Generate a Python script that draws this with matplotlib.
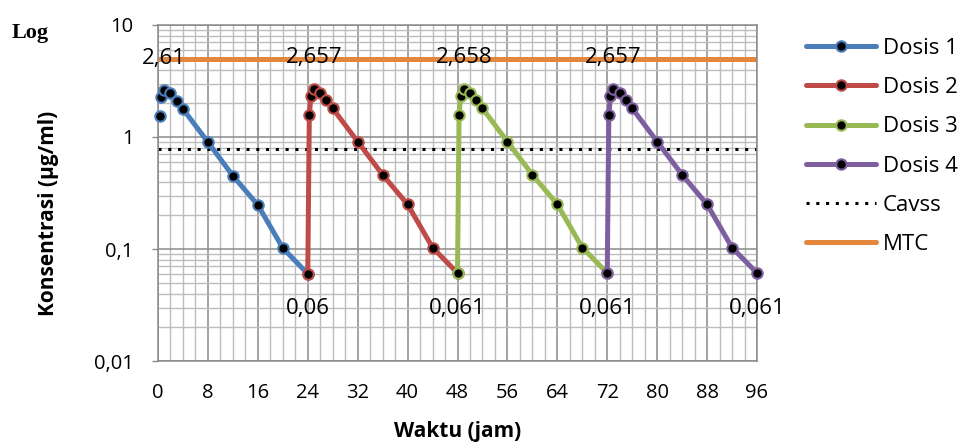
import numpy as np
import matplotlib
matplotlib.use("Agg")
import matplotlib.pyplot as plt
from matplotlib.ticker import FixedLocator, MultipleLocator, NullFormatter

plt.rcParams['font.family'] = ['Open Sans', 'DejaVu Sans']

# data (nan = gap in the Dosis 1 line after the first point)
t1 = [0.25, 0.4, 0.5, 1, 2, 3, 4, 8, 12, 16, 20, 24]
c1 = [1.54, np.nan, 2.28, 2.61, 2.47, 2.1, 1.78, 0.9, 0.45, 0.247, 0.102, 0.06]
t2 = [24, 24.25, 24.5, 25, 26, 27, 28, 32, 36, 40, 44, 48]
c2 = [0.06, 1.56, 2.3, 2.657, 2.49, 2.12, 1.8, 0.91, 0.46, 0.25, 0.103, 0.061]
t3 = [48, 48.25, 48.5, 49, 50, 51, 52, 56, 60, 64, 68, 72]
c3 = [0.061, 1.56, 2.3, 2.658, 2.49, 2.12, 1.8, 0.91, 0.46, 0.25, 0.103, 0.061]
t4 = [72, 72.25, 72.5, 73, 74, 75, 76, 80, 84, 88, 92, 96]
c4 = [0.061, 1.56, 2.3, 2.657, 2.49, 2.12, 1.8, 0.91, 0.46, 0.25, 0.103, 0.061]
cavss = 0.78
mtc = 5.0

peak_t = [1, 25, 49, 73]
peak_c = [2.61, 2.657, 2.658, 2.657]
peak_lbl = ["2,61", "2,657", "2,658", "2,657"]
low_t = [24, 48, 72, 96]
low_c = [0.06, 0.061, 0.061, 0.061]
low_lbl = ["0,06", "0,061", "0,061", "0,061"]

yticks = [0.01, 0.1, 1, 10]
ytick_lbl = ["0,01", "0,1", "1", "10"]
xticks = list(range(0, 97, 8))

names = ["Dosis 1", "Dosis 2", "Dosis 3", "Dosis 4"]
colors = ["#4A7EBB", "#BE4B48", "#98B954", "#7D5FA0"]

W, H = 965, 447
fig = plt.figure(figsize=(W/100, H/100), dpi=100)
ax = fig.add_axes([158/W, 1 - 361/H, (757-158)/W, (361-25)/H])

ax.set_yscale("log")
ax.set_xlim(0, 96)
ax.set_ylim(0.01, 10)

# grid
ax.xaxis.set_minor_locator(MultipleLocator(2))
ax.xaxis.set_major_locator(FixedLocator(xticks))
ax.yaxis.set_major_locator(FixedLocator(yticks))
ax.yaxis.set_minor_locator(FixedLocator([m * 10.0**e for e in range(-2, 1) for m in range(2, 10)]))
ax.yaxis.set_minor_formatter(NullFormatter())
ax.grid(which="major", color="#8a8a8a", lw=1.1)
ax.grid(which="minor", color="#bdbdbd", lw=1.0)
ax.set_axisbelow(True)

ax.set_yticklabels(ytick_lbl)
ax.set_xticklabels([str(x) for x in xticks])
ax.tick_params(axis="y", which="major", length=4.5, width=1, color="#8a8a8a", pad=13, labelsize=14.5)
ax.tick_params(axis="y", which="minor", length=0)
ax.tick_params(axis="x", which="both", length=0, pad=16, labelsize=14.5)
for s in ax.spines.values():
    s.set_color("#8a8a8a")
    s.set_linewidth(1.1)

lines = []
for t, c, col, nm in zip([t1, t2, t3, t4], [c1, c2, c3, c4], colors, names):
    ln, = ax.plot(t, c, color=col, lw=3.6, marker="o", ms=7.5, mfc="black",
                  mec=col, mew=1.5, label=nm, solid_capstyle="round", clip_on=False, zorder=3)
    lines.append(ln)

ln_c = ax.axhline(cavss, color="black", lw=2.2, ls=(0, (1, 2.2)), label="Cavss", zorder=2)
ln_m = ax.axhline(mtc, color="#E3873D", lw=3.6, label="MTC", solid_capstyle="round", zorder=2)

for t, c, s in zip(peak_t, peak_c, peak_lbl):
    ax.annotate(s, (t, c), xytext=(0, 32), textcoords="offset pixels",
                ha="center", va="center", fontsize=16)
for t, c, s in zip(low_t, low_c, low_lbl):
    ax.annotate(s, (t, c), xytext=(0, -35), textcoords="offset pixels",
                ha="center", va="center", fontsize=16)

fig.text(458/W, 1 - 432/H, "Waktu (jam)", ha="center", va="center",
         fontsize=15, fontweight="bold")
fig.text(49/W, 1 - 213/H, "Konsentrasi (µg/ml)", rotation=90, ha="center", va="center",
         fontsize=15, fontweight="bold")
fig.text(12/W, 1 - 33/H, "Log", ha="left", va="center", fontsize=16, fontweight="bold",
         family="Liberation Serif")

fig.legend(handles=lines + [ln_c, ln_m], loc="upper left", bbox_to_anchor=(806/W, 1 - 38/H),
           frameon=False, fontsize=16, handlelength=3.15, handletextpad=0.3,
           labelspacing=0.82, numpoints=1, borderaxespad=0, borderpad=0)

fig.savefig("out.png", dpi=100)
